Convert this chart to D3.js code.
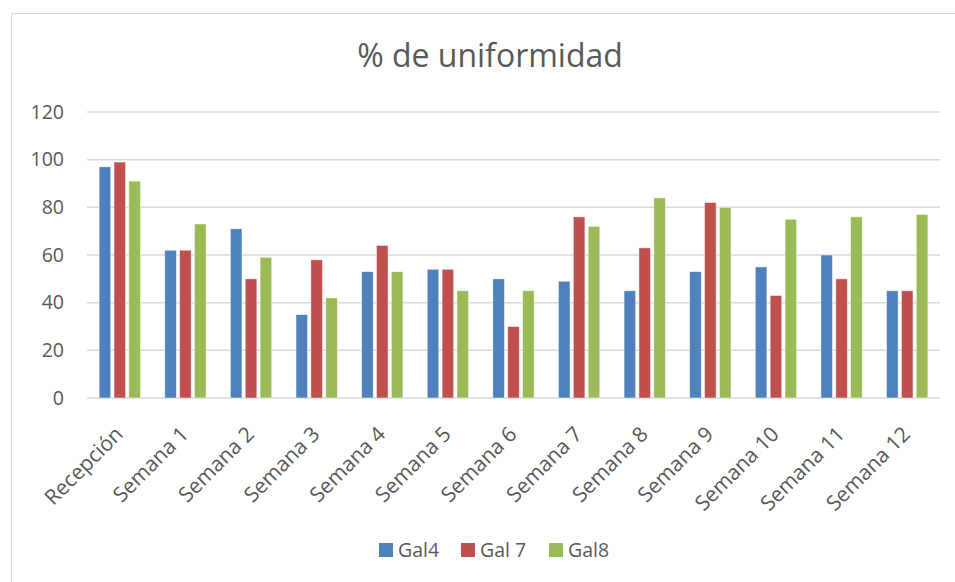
<!DOCTYPE html>
<html>
<head>
<meta charset="utf-8">
<script src="https://cdn.jsdelivr.net/npm/d3@7"></script>
<style>
  body { margin: 0; background: #fff; }
  text { font-family: "Open Sans", "Noto Sans", sans-serif; fill: #595959; }
</style>
</head>
<body>
<div id="container"></div>
<script>
/* DATA */
const categories = ["Recepción", "Semana 1", "Semana 2", "Semana 3", "Semana 4", "Semana 5", "Semana 6",
  "Semana 7", "Semana 8", "Semana 9", "Semana 10", "Semana 11", "Semana 12"]
const seriesNames = ["Gal4", "Gal 7", "Gal8"]
const gal4 = [97, 62, 71, 35, 53, 54, 50, 49, 45, 53, 55, 60, 45]
const gal7 = [99, 62, 50, 58, 64, 54, 30, 76, 63, 82, 43, 50, 45]
const gal8 = [91, 73, 59, 42, 53, 45, 45, 72, 84, 80, 75, 76, 77]
const yTicks = [0, 20, 40, 60, 80, 100, 120]

/* CONSTANTS */
const width = 955, height = 582
const margin = { top: 112, bottom: 184, left: 87, right: 15 }
const colors = ["#4F81BD", "#C0504D", "#9BBB59"]
const allSeries = [gal4, gal7, gal8]

const svg = d3.select("#container")
  .append("svg")
  .attr("width", width)
  .attr("height", height)

// chart frame (only top/left visible in the picture)
svg.append("rect")
  .attr("x", 11.5).attr("y", 13.5)
  .attr("width", 960).attr("height", 600)
  .attr("fill", "none")
  .attr("stroke", "#d9d9d9")

// SCALES
const xScale = d3.scaleBand()
  .domain(categories)
  .range([margin.left, width - margin.right])
  .paddingInner(0.37)
  .paddingOuter(0.185)

const xInner = d3.scaleBand()
  .domain(seriesNames)
  .range([0, xScale.bandwidth()])
  .paddingInner(0.22)

const yScale = d3.scaleLinear()
  .domain([0, 120])
  .range([height - margin.bottom, margin.top])

// GRIDLINES
svg.append("g")
  .selectAll("line")
  .data(yTicks)
  .join("line")
  .attr("x1", margin.left)
  .attr("x2", width - margin.right)
  .attr("y1", d => yScale(d))
  .attr("y2", d => yScale(d))
  .attr("stroke", "#d9d9d9")
  .attr("stroke-width", 1.5)

// Y AXIS LABELS
svg.append("g")
  .selectAll("text")
  .data(yTicks)
  .join("text")
  .attr("x", 64)
  .attr("y", d => yScale(d))
  .attr("dy", "0.35em")
  .attr("text-anchor", "end")
  .style("font-size", "19.5px")
  .text(d => d)

// BARS
const rows = categories.map((c, i) => ({ cat: c, vals: allSeries.map(s => s[i]) }))

const groups = svg.append("g")
  .selectAll("g")
  .data(rows)
  .join("g")
  .attr("transform", d => `translate(${xScale(d.cat)},0)`)

groups.selectAll("rect")
  .data(d => d.vals.map((v, j) => ({ name: seriesNames[j], v, j })))
  .join("rect")
  .attr("x", d => xInner(d.name))
  .attr("width", xInner.bandwidth())
  .attr("y", d => yScale(d.v))
  .attr("height", d => yScale(0) - yScale(d.v))
  .attr("fill", d => colors[d.j])
  .attr("stroke", "#ffffff")
  .attr("stroke-opacity", 0.6)
  .attr("stroke-width", 0.8)

// X AXIS LABELS
svg.append("g")
  .selectAll("text")
  .data(categories)
  .join("text")
  .attr("transform", d => `translate(${xScale(d) + xScale.bandwidth() / 2 - 6},${yScale(0) + 27}) rotate(-45)`)
  .attr("text-anchor", "end")
  .attr("dy", "0.7em")
  .style("font-size", "21px")
  .text(d => d)

// TITLE
svg.append("text")
  .attr("x", 490)
  .attr("y", 67)
  .attr("text-anchor", "middle")
  .style("font-size", "32px")
  .text("% de uniformidad")

// LEGEND
const legendX = [379, 461, 549]
const legend = svg.append("g")
  .selectAll("g")
  .data(seriesNames)
  .join("g")
  .attr("transform", (d, i) => `translate(${legendX[i]},543)`)

legend.append("rect")
  .attr("width", 14).attr("height", 14)
  .attr("fill", (d, i) => colors[i])

legend.append("text")
  .attr("x", 19)
  .attr("y", 7)
  .attr("dy", "0.36em")
  .style("font-size", "19.5px")
  .text(d => d)
</script>
</body>
</html>
